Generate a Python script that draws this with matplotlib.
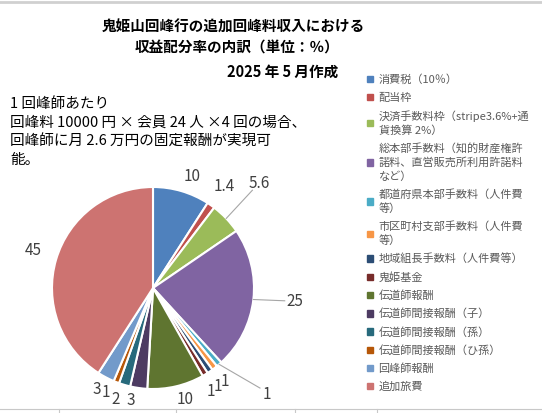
import numpy as np
import matplotlib
matplotlib.use('Agg')
import matplotlib.pyplot as plt
from matplotlib.lines import Line2D
from matplotlib.patches import Rectangle

plt.rcParams['font.family'] = ['Noto Sans CJK JP', 'DejaVu Sans']

# data
categories = [
    '消費税（10％）',
    '配当枠',
    '決済手数料枠（stripe3.6%+通\n貨換算 2%）',
    '総本部手数料（知的財産権許\n諾料、直営販売所利用許諾料\nなど）',
    '都道府県本部手数料（人件費\n等）',
    '市区町村支部手数料（人件費\n等）',
    '地域組長手数料（人件費等）',
    '鬼姫基金',
    '伝道師報酬',
    '伝道師間接報酬（子）',
    '伝道師間接報酬（孫）',
    '伝道師間接報酬（ひ孫）',
    '回峰師報酬',
    '追加旅費',
]
values = [10, 1.4, 5.6, 25, 1, 1, 1, 1, 10, 3, 2, 1, 3, 45]
value_labels = ['10', '1.4', '5.6', '25', '1', '1', '1', '1', '10', '3', '2', '1', '3', '45']
colors = ['#4F81BD', '#C0504D', '#9BBB59', '#8064A2', '#4BACC6', '#F79646',
          '#2C4D75', '#772C2A', '#5F7530', '#4D3B62', '#276A7C', '#B65708',
          '#729ACA', '#CD7371']

# label radius / angle nudge per slice (Excel "best fit" look), leader line where far out
label_r = [1.17, 1.23, 1.48, 1.41, 1.55, 1.17, 1.17, 1.17, 1.15, 1.14, 1.16, 1.14, 1.15, 1.24]
label_da = [-3, 0, 1, 1, 6, 0, -1, -2, 3, -3, -2, -3, -1, -1]
leader = [False, False, True, True, True] + [False] * 9

W, H = 542, 413
fig = plt.figure(figsize=(W / 100, H / 100), dpi=100)

# spreadsheet grid remnants
fig.add_artist(Line2D([0, 1], [1 - 1.5 / H, 1 - 1.5 / H], color='#d0d0d0', lw=2))
fig.add_artist(Line2D([0, 1], [1 - 409 / H, 1 - 409 / H], color='#c8c8c8', lw=0.8))
for gx in [59, 176, 295, 377]:
    fig.add_artist(Line2D([gx / W, gx / W], [0, 1 - 409 / H], color='#c8c8c8', lw=0.8))

# titles
fig.text(233 / W, 1 - 27 / H, '鬼姫山回峰行の追加回峰料収入における', ha='center', va='center',
         fontsize=10.5, fontweight='bold')
fig.text(237 / W, 1 - 48 / H, '収益配分率の内訳（単位：％）', ha='center', va='center',
         fontsize=10.5, fontweight='bold')
fig.text(283 / W, 1 - 72 / H, '2025 年 5 月作成', ha='center', va='center',
         fontsize=10.5, fontweight='bold')

note = ('1 回峰師あたり\n回峰料 10000 円 × 会員 24 人 ×4 回の場合、\n'
        '回峰師に月 2.6 万円の固定報酬が実現可\n能。')
fig.text(10 / W, 1 - 97 / H, note, ha='left', va='top', fontsize=10.5,
         linespacing=1.42, color='#000000')

# pie
cx, cy, r = 153, 288, 101
ax = fig.add_axes([(cx - r) / W, 1 - (cy + r) / H, 2 * r / W, 2 * r / H])
wedges, _ = ax.pie(values, colors=colors, startangle=90, counterclock=False,
                   radius=1, wedgeprops=dict(edgecolor='white', linewidth=1.5))
ax.set_xlim(-1, 1)
ax.set_ylim(-1, 1)
ax.set_aspect('auto')
ax.axis('off')

for w, lab, lr, da, ld in zip(wedges, value_labels, label_r, label_da, leader):
    mid = np.deg2rad((w.theta1 + w.theta2) / 2)
    ang = mid + np.deg2rad(da)
    ax.text(lr * np.cos(ang), lr * np.sin(ang), lab, ha='center', va='center',
            fontsize=11, color='#404040', clip_on=False)
    if ld:
        ax.plot([np.cos(mid), (lr - 0.1) * np.cos(ang)],
                [np.sin(mid), (lr - 0.1) * np.sin(ang)],
                color='#a6a6a6', lw=0.8, clip_on=False)

# legend
handles = [Rectangle((0, 0), 1, 1, color=c) for c in colors]
leg = fig.legend(handles, categories, loc='upper left', bbox_to_anchor=(363 / W, 1 - 70 / H),
                 frameon=False, fontsize=8, labelcolor='#595959', handlelength=0.5,
                 handleheight=0.5, handletextpad=0.5, labelspacing=0.68, borderaxespad=0)
for t in leg.get_texts():
    t.set_linespacing(1.35)

fig.savefig('out.png', dpi=100)
